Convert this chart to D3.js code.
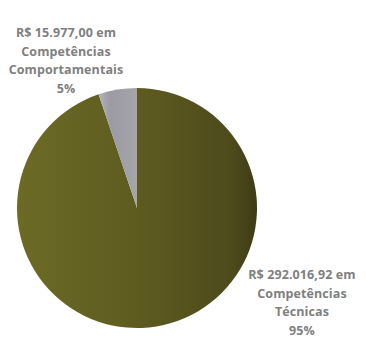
<!DOCTYPE html>
<html>
<head>
<meta charset="utf-8">
<script src="https://cdn.jsdelivr.net/npm/d3@7"></script>
<style>
  html, body { margin: 0; padding: 0; background: #fff; }
  #chart { width: 366px; height: 347px; }
</style>
</head>
<body>
<div id="chart"></div>
<script>
(function () {
// data
const categories = ["Competências Técnicas", "Competências Comportamentais"];
const values = [292016.92, 15977.00];
const valueLabels = ["R$ 292.016,92 em", "R$ 15.977,00 em"];
const nameLines = [["Competências", "Técnicas"], ["Competências", "Comportamentais"]];
const percentLabels = ["95%", "5%"];

const svgWidth = 366;
const svgHeight = 347;

const svg = d3.select("#chart")
  .append("svg")
  .attr("width", svgWidth)
  .attr("height", svgHeight);

// gradients
const defs = svg.append("defs");
const gGreen = defs.append("linearGradient")
  .attr("id", "gGreen")
  .attr("x1", "0%").attr("x2", "100%")
  .attr("y1", "0%").attr("y2", "0%");
gGreen.append("stop").attr("offset", "0%").attr("stop-color", "#6c6b25");
gGreen.append("stop").attr("offset", "50%").attr("stop-color", "#5e5b20");
gGreen.append("stop").attr("offset", "90%").attr("stop-color", "#4d4a1c");
gGreen.append("stop").attr("offset", "100%").attr("stop-color", "#3e3b16");

const gGray = defs.append("linearGradient")
  .attr("id", "gGray")
  .attr("x1", "0%").attr("x2", "100%")
  .attr("y1", "0%").attr("y2", "0%");
gGray.append("stop").attr("offset", "0%").attr("stop-color", "#b4b4b8");
gGray.append("stop").attr("offset", "30%").attr("stop-color", "#9c9aa2");
gGray.append("stop").attr("offset", "100%").attr("stop-color", "#a6a5aa");

const fills = ["url(#gGreen)", "url(#gGray)"];

const cx = 137, cy = 208, radius = 120;

const pie = d3.pie().sort(null).value(d => d)(values);
const arc = d3.arc().innerRadius(0).outerRadius(radius);

const g = svg.append("g")
  .attr("transform", `translate(${cx}, ${cy})`);

g.selectAll("path")
  .data(pie)
  .join("path")
  .attr("d", arc)
  .attr("fill", (d, i) => fills[i]);

// labels
const labelPos = [[302, 275], [66, 33]];
const lineH = 18.5;

pie.forEach((d, i) => {
  const lines = [valueLabels[i]].concat(nameLines[i], [percentLabels[i]]);
  const t = svg.append("text")
    .attr("text-anchor", "middle")
    .style("font-family", "'Open Sans', sans-serif")
    .style("font-weight", "bold")
    .style("font-size", "12.5px")
    .style("letter-spacing", "0.1px")
    .style("fill", "#808080");
  lines.forEach((s, j) => {
    t.append("tspan")
      .attr("x", labelPos[i][0])
      .attr("y", labelPos[i][1] + j * lineH + 4)
      .text(s);
  });
});
})();
</script>
</body>
</html>
